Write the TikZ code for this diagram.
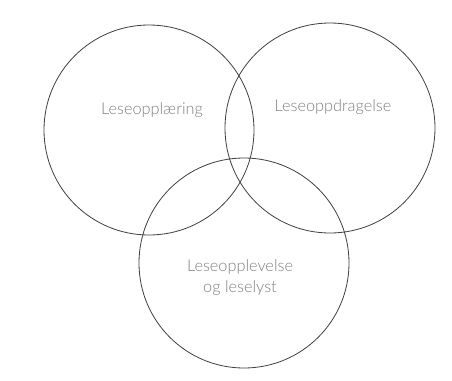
\documentclass[tikz,border=0pt]{standalone}
\usepackage{fontspec}
\setmainfont{Lato Light}
\begin{document}
\begin{tikzpicture}[x=1pt,y=-1pt,
  ring/.style={draw=black!75, line width=0.8pt, circle, minimum size=210pt, inner sep=0pt},
  lbl/.style={text=black!50, font=\fontsize{16.3}{21}\selectfont, align=center, inner sep=0pt}]
\useasboundingbox[fill=white] (0,0) rectangle (452,380);
\node[ring] (c1) at (149,130) {};
\node[ring] (c2) at (330,128) {};
\node[ring] (c3) at (244,263) {};
\node[lbl] (t1) at (152,110) {Leseopplæring};
\node[lbl] (t2) at (333,107) {Leseoppdragelse};
\node[lbl] (t3) at (240,278) {Leseopplevelse\\og leselyst};
\end{tikzpicture}
\end{document}
